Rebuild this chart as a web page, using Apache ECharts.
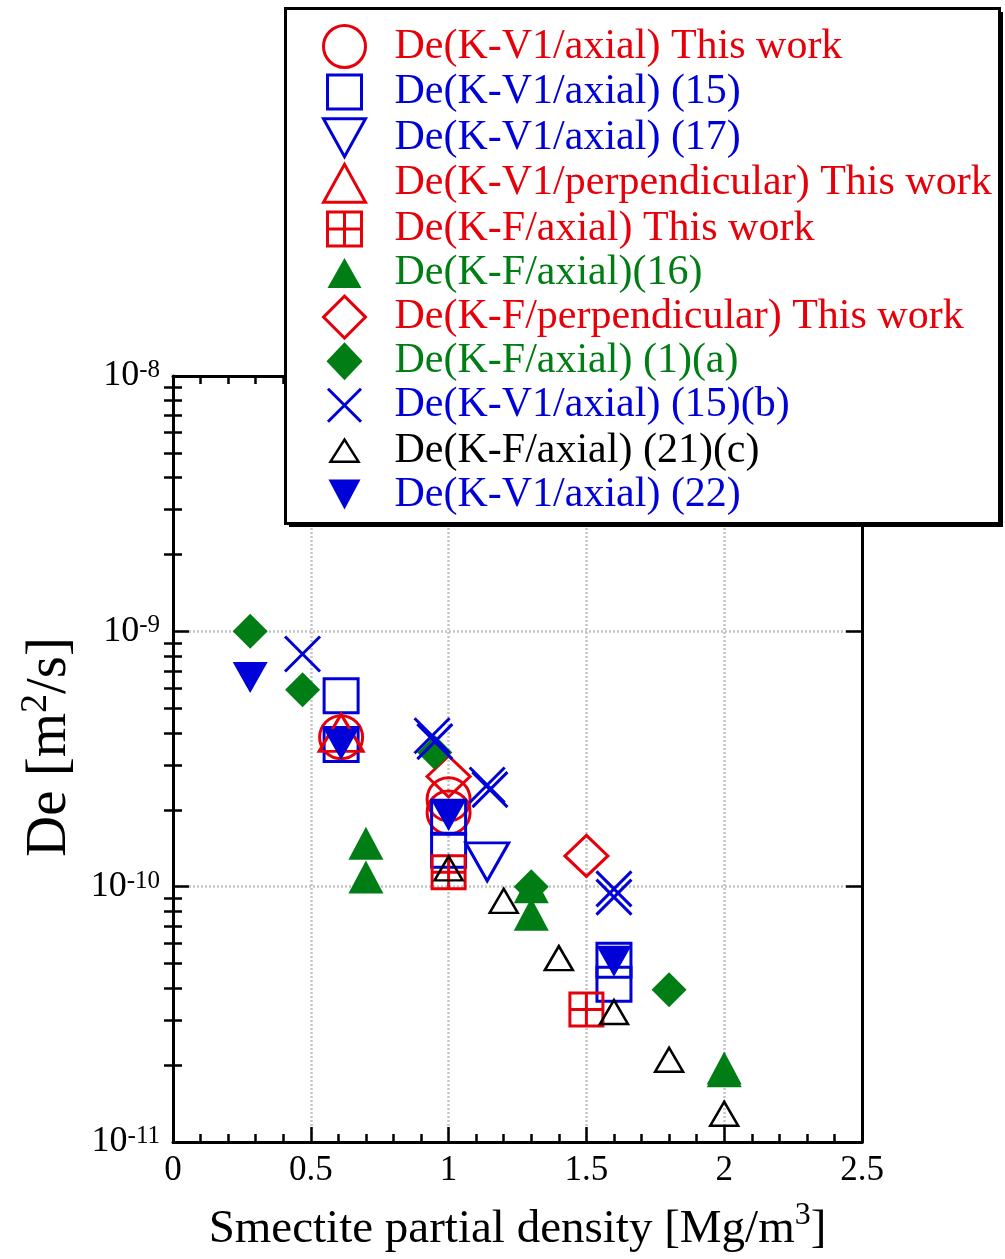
<!DOCTYPE html>
<html><head><meta charset="utf-8">
<script src="https://cdn.jsdelivr.net/npm/echarts@6/dist/echarts.min.js"></script>
<style>html,body{margin:0;padding:0;background:#fff}#c{width:1005px;height:1259px}</style>
</head><body><div id="c"></div>
<script>
// ---------------- data ----------------
const legendNames = [
  'De(K-V1/axial) This work',
  'De(K-V1/axial) (15)',
  'De(K-V1/axial) (17)',
  'De(K-V1/perpendicular) This work',
  'De(K-F/axial) This work',
  'De(K-F/axial)(16)',
  'De(K-F/perpendicular) This work',
  'De(K-F/axial) (1)(a)',
  'De(K-V1/axial) (15)(b)',
  'De(K-F/axial) (21)(c)',
  'De(K-V1/axial) (22)'
];
const kv1AxialThisWork = [[0.61, 3.85e-10], [1.0, 2.2e-10], [1.0, 1.95e-10]];
const kv1Axial15 = [[0.61, 5.6e-10], [0.61, 3.6e-10], [1.0, 1.87e-10], [1.0, 1.39e-10], [1.6, 5.15e-11], [1.6, 4.15e-11]];
const kv1Axial17 = [[1.14, 1.25e-10]];
const kv1PerpThisWork = [[0.61, 4.0e-10]];
const kfAxialThisWork = [[1.0, 1.14e-10], [1.5, 3.3e-11]];
const kfAxial16 = [[0.7, 1.48e-10], [0.7, 1.09e-10], [1.3, 1.0e-10], [1.3, 7.8e-11], [2.0, 1.95e-11], [2.0, 1.9e-11]];
const kfPerpThisWork = [[1.0, 2.7e-10], [1.5, 1.32e-10]];
const kfAxial1a = [[0.28, 1.0e-9], [0.47, 5.9e-10], [0.95, 3.35e-10], [1.3, 1.0e-10], [1.8, 3.95e-11]];
const kv1Axial15b = [[0.47, 8.15e-10], [0.94, 3.9e-10], [0.95, 3.7e-10], [1.14, 2.5e-10], [1.15, 2.4e-10], [1.6, 9.8e-11], [1.6, 9.1e-11]];
const kfAxial21c = [[1.0, 1.18e-10], [1.2, 8.8e-11], [1.4, 5.25e-11], [1.6, 3.23e-11], [1.8, 2.1e-11], [2.0, 1.29e-11]];
const kv1Axial22 = [[0.28, 6.6e-10], [0.61, 3.6e-10], [1.0, 1.9e-10], [1.6, 5.1e-11]];

const xTickValues = [0, 0.5, 1, 1.5, 2, 2.5];
const yTickExponents = [-11, -10, -9, -8];
const yMinorMultipliers = [2, 3, 4, 5, 6, 7, 8, 9];

const xAxisTitle = ['Smectite partial density [Mg/m', '3', ']'];
const yAxisTitle = ['De [m', '2', '/s]'];

// ---------------- styles ----------------
const RED = '#e6000a', BLUE = '#0000d8', GREEN = '#007d14', BLACK = '#000000';
const FONT = '"Liberation Serif","Times New Roman",serif';
const DOWN_TRI = 'path://M0,0L10,0L5,9Z';
const GRID_SQ = 'path://M0,0H10V10H0ZM5,0V10M0,5H10';
const CROSS = 'path://M0,0L10,10M10,0L0,10';
const PAD = 'M0,0M44,44';
const styles = [
  {data: kv1AxialThisWork, symbol: 'circle', size: 43, fill: 'transparent', stroke: RED, bw: 3, text: RED,
   icon: 'path://' + PAD + 'M43,22A21,21,0,1,1,1,22A21,21,0,1,1,43,22Z'},
  {data: kv1Axial15, symbol: 'rect', size: 34, fill: 'transparent', stroke: BLUE, bw: 3, text: BLUE,
   icon: 'path://' + PAD + 'M5,5H39V39H5Z'},
  {data: kv1Axial17, symbol: DOWN_TRI, size: [43, 38], fill: 'transparent', stroke: BLUE, bw: 3, text: BLUE,
   icon: 'path://' + PAD + 'M1,3L43,3L22,41Z'},
  {data: kv1PerpThisWork, symbol: 'triangle', size: [44, 37], fill: 'transparent', stroke: RED, bw: 3, text: RED,
   icon: 'path://' + PAD + 'M1,41L43,41L22,3Z'},
  {data: kfAxialThisWork, symbol: GRID_SQ, size: 33, fill: 'transparent', stroke: RED, bw: 3, text: RED,
   icon: 'path://' + PAD + 'M5,5H39V39H5ZM22,5V39M5,22H39'},
  {data: kfAxial16, symbol: 'triangle', size: [35, 33], fill: GREEN, stroke: GREEN, bw: 0, text: GREEN,
   icon: 'path://' + PAD + 'M5,37L39,37L22,7Z'},
  {data: kfPerpThisWork, symbol: 'diamond', size: [43, 41], fill: 'transparent', stroke: RED, bw: 3, text: RED,
   icon: 'path://' + PAD + 'M22,1L43,22L22,43L1,22Z'},
  {data: kfAxial1a, symbol: 'diamond', size: [35, 35], fill: GREEN, stroke: GREEN, bw: 0, text: GREEN,
   icon: 'path://' + PAD + 'M22,3L40,22L22,41L4,22Z'},
  {data: kv1Axial15b, symbol: CROSS, size: 35, fill: 'transparent', stroke: BLUE, bw: 3, text: BLUE,
   icon: 'path://' + PAD + 'M5.5,5.5L38.5,38.5M38.5,5.5L5.5,38.5'},
  {data: kfAxial21c, symbol: 'triangle', size: [28, 24], fill: 'transparent', stroke: BLACK, bw: 2.5, text: BLACK,
   icon: 'path://' + PAD + 'M8,33L36,33L22,11Z'},
  {data: kv1Axial22, symbol: DOWN_TRI, size: [35, 31], fill: BLUE, stroke: BLUE, bw: 0, text: BLUE,
   icon: 'path://' + PAD + 'M6,7L38,7L22,37Z'}
];

const series = styles.map((s, i) => ({
  name: legendNames[i],
  type: 'scatter',
  xAxisIndex: 0, yAxisIndex: 0,
  data: s.data,
  symbol: s.symbol,
  symbolSize: s.size,
  itemStyle: {color: s.fill, borderColor: s.stroke, borderWidth: s.bw, opacity: 1},
  emphasis: {disabled: true},
  z: 2
}));

const legendData = styles.map((s, i) => ({
  name: legendNames[i],
  icon: s.icon,
  itemStyle: {borderWidth: s.bw, color: s.fill, borderColor: s.stroke},
  textStyle: {color: s.text}
}));

const yMinorLog = [];
for (let e = yTickExponents[0]; e < yTickExponents[yTickExponents.length - 1]; e++) {
  yMinorMultipliers.forEach(m => yMinorLog.push(e + Math.log10(m)));
}

const gridLine = {show: true, lineStyle: {color: '#c4c4c4', width: 2.5, type: [2, 2]}};
const tickStyle = {color: '#000', width: 2.5};
const axisLine = {show: true, onZero: false, lineStyle: {color: '#000', width: 3}};

const xBase = {
  type: 'value', min: xTickValues[0], max: xTickValues[xTickValues.length - 1],
  interval: xTickValues[1] - xTickValues[0],
  axisLine: axisLine,
  axisTick: {show: true, inside: true, length: 15, lineStyle: tickStyle},
  minorTick: {show: true, splitNumber: 5, length: 8, lineStyle: tickStyle}
};

const option = {
  animation: false,
  backgroundColor: '#fff',
  textStyle: {fontFamily: FONT},
  grid: {left: 173, right: 143, top: 376, bottom: 117, containLabel: false, outerBoundsMode: 'none'},
  xAxis: [
    Object.assign({}, xBase, {
      position: 'bottom',
      splitLine: gridLine,
      axisLabel: {show: true, margin: 11, fontSize: 35, color: '#000', fontFamily: FONT,
        formatter: v => String(xTickValues.find(t => Math.abs(t - v) < 1e-9) ?? v)},
      name: '{t|' + xAxisTitle[0] + '}{s|' + xAxisTitle[1] + '}{t|' + xAxisTitle[2] + '}',
      nameLocation: 'middle', nameGap: 58,
      nameTextStyle: {fontFamily: FONT, color: '#000', rich: {
        t: {fontSize: 47, fontFamily: FONT, color: '#000', lineHeight: 60},
        s: {fontSize: 32, fontFamily: FONT, color: '#000', verticalAlign: 'top', lineHeight: 22}
      }}
    }),
    Object.assign({}, xBase, {position: 'top', axisLabel: {show: false}, splitLine: {show: false}})
  ],
  yAxis: [
    {
      type: 'log', logBase: 10, position: 'left',
      min: Math.pow(10, yTickExponents[0]), max: Math.pow(10, yTickExponents[yTickExponents.length - 1]),
      axisLine: axisLine,
      axisTick: {show: true, inside: true, length: 16, lineStyle: tickStyle},
      splitLine: gridLine,
      axisLabel: {show: true, margin: 13, color: '#000',
        formatter: v => {
          const e = Math.round(Math.log10(v));
          const lab = yTickExponents.includes(e) ? String(e) : '';
          return '{b|10}{s|' + lab + '}';
        },
        rich: {
          b: {fontSize: 36, fontFamily: FONT, color: '#000', lineHeight: 36},
          s: {fontSize: 25, fontFamily: FONT, color: '#000', verticalAlign: 'top', lineHeight: 20}
        }
      },
      name: '{t|' + yAxisTitle[0] + '}{s|' + yAxisTitle[1] + '}{t|' + yAxisTitle[2] + '}',
      nameLocation: 'middle', nameGap: 90,
      nameTextStyle: {fontFamily: FONT, color: '#000', padding: [0, 0, 0, 24], rich: {
        t: {fontSize: 57, fontFamily: FONT, color: '#000', lineHeight: 66},
        s: {fontSize: 38, fontFamily: FONT, color: '#000', verticalAlign: 'top', lineHeight: 24}
      }}
    },
    {
      type: 'log', logBase: 10, position: 'right',
      min: Math.pow(10, yTickExponents[0]), max: Math.pow(10, yTickExponents[yTickExponents.length - 1]),
      axisLine: axisLine,
      axisTick: {show: true, inside: true, length: 16, lineStyle: tickStyle},
      splitLine: {show: false}, axisLabel: {show: false}
    },
    {
      type: 'value', position: 'left', min: yTickExponents[0], max: yTickExponents[yTickExponents.length - 1],
      axisLine: {show: false}, splitLine: {show: false}, axisLabel: {show: false},
      axisTick: {show: true, inside: true, length: 9, lineStyle: tickStyle, customValues: yMinorLog}
    },
    {
      type: 'value', position: 'right', min: yTickExponents[0], max: yTickExponents[yTickExponents.length - 1],
      axisLine: {show: false}, splitLine: {show: false}, axisLabel: {show: false},
      axisTick: {show: true, inside: true, length: 9, lineStyle: tickStyle, customValues: yMinorLog}
    }
  ],
  legend: {
    show: true, orient: 'vertical', left: 321, top: 23, padding: 0,
    itemWidth: 44, itemHeight: 44, itemGap: -1.4, symbolKeepAspect: true,
    selectedMode: false, z: 10,
    textStyle: {fontSize: 42, fontFamily: FONT, lineHeight: 44, padding: [0, 0, 0, 23]},
    data: legendData
  },
  graphic: [
    {type: 'rect', z: 5, silent: true, shape: {x: 289, y: 12, width: 714, height: 515}, style: {fill: '#000'}},
    {type: 'rect', z: 6, silent: true, shape: {x: 285.5, y: 8.5, width: 714, height: 515}, style: {fill: '#fff', stroke: '#000', lineWidth: 3}}
  ],
  series: series
};

const chart = echarts.init(document.getElementById('c'), null, {renderer: 'canvas'});
chart.setOption(option);
</script>
</body></html>
